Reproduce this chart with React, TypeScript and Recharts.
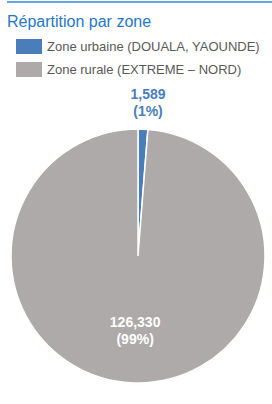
import { PieChart, Pie, Cell } from "recharts"

const zones = ["Zone urbaine (DOUALA, YAOUNDE)", "Zone rurale (EXTREME – NORD)"]
const counts = [1589, 126330]
const COLORS = ["#4a7ebb", "#aeaaa9"]

const data = zones.map((name, i) => ({ name, value: counts[i] }))
const total = counts.reduce((a, b) => a + b, 0)

const RAD = Math.PI / 180
const FONT = "Liberation Sans, Arial, sans-serif"

const renderLabel = (props: any) => {
  const { cx, cy, midAngle, outerRadius, value, index } = props
  const inside = index === 1
  const r = inside ? outerRadius * 0.58 : outerRadius + 27
  const x = cx + r * Math.cos(-midAngle * RAD) + (inside ? 0 : 4)
  const y = cy + r * Math.sin(-midAngle * RAD)
  const pct = Math.round((value / total) * 100)
  return (
    <text
      x={x}
      y={y}
      textAnchor="middle"
      fill={inside ? "#ffffff" : "#4a7ebb"}
      fontSize={14}
      fontWeight="bold"
      fontFamily={FONT}
    >
      <tspan x={x} dy={-3}>{value.toLocaleString("en-US")}</tspan>
      <tspan x={x} dy={17}>({pct}%)</tspan>
    </text>
  )
}

export default function App() {
  return (
    <div style={{ position: "absolute", top: 0, left: 0, width: 272, height: 404, background: "#fff", fontFamily: FONT }}>
      <div style={{ position: "absolute", top: 1, left: 7, width: 265, height: 2, background: "#64a4e0" }} />
      <PieChart
        width={272}
        height={404}
        margin={{ top: 0, right: 0, bottom: 0, left: 0 }}
        style={{ position: "absolute", top: 0, left: 0 }}
      >
        <Pie
          data={data}
          dataKey="value"
          nameKey="name"
          cx={138}
          cy={256}
          outerRadius={127}
          startAngle={90}
          endAngle={-270}
          stroke="#ffffff"
          strokeWidth={1.5}
          labelLine={false}
          label={renderLabel}
          isAnimationActive={false}
        >
          {data.map((entry, index) => (
            <Cell key={`cell-${index}`} fill={COLORS[index]} />
          ))}
        </Pie>
      </PieChart>
      <div style={{ position: "absolute", top: 12, left: 7, color: "#1f78c8", fontSize: 16, lineHeight: "20px" }}>
        Répartition par zone
      </div>
      {zones.map((z, i) => (
        <div key={z} style={{ position: "absolute", top: 39 + i * 23, left: 16, display: "flex", alignItems: "center", height: 15 }}>
          <span style={{ width: 26, height: 15, background: COLORS[i], display: "inline-block", marginRight: 5 }} />
          <span style={{ color: "#595959", fontSize: 13 }}>{z}</span>
        </div>
      ))}
    </div>
  )
}
